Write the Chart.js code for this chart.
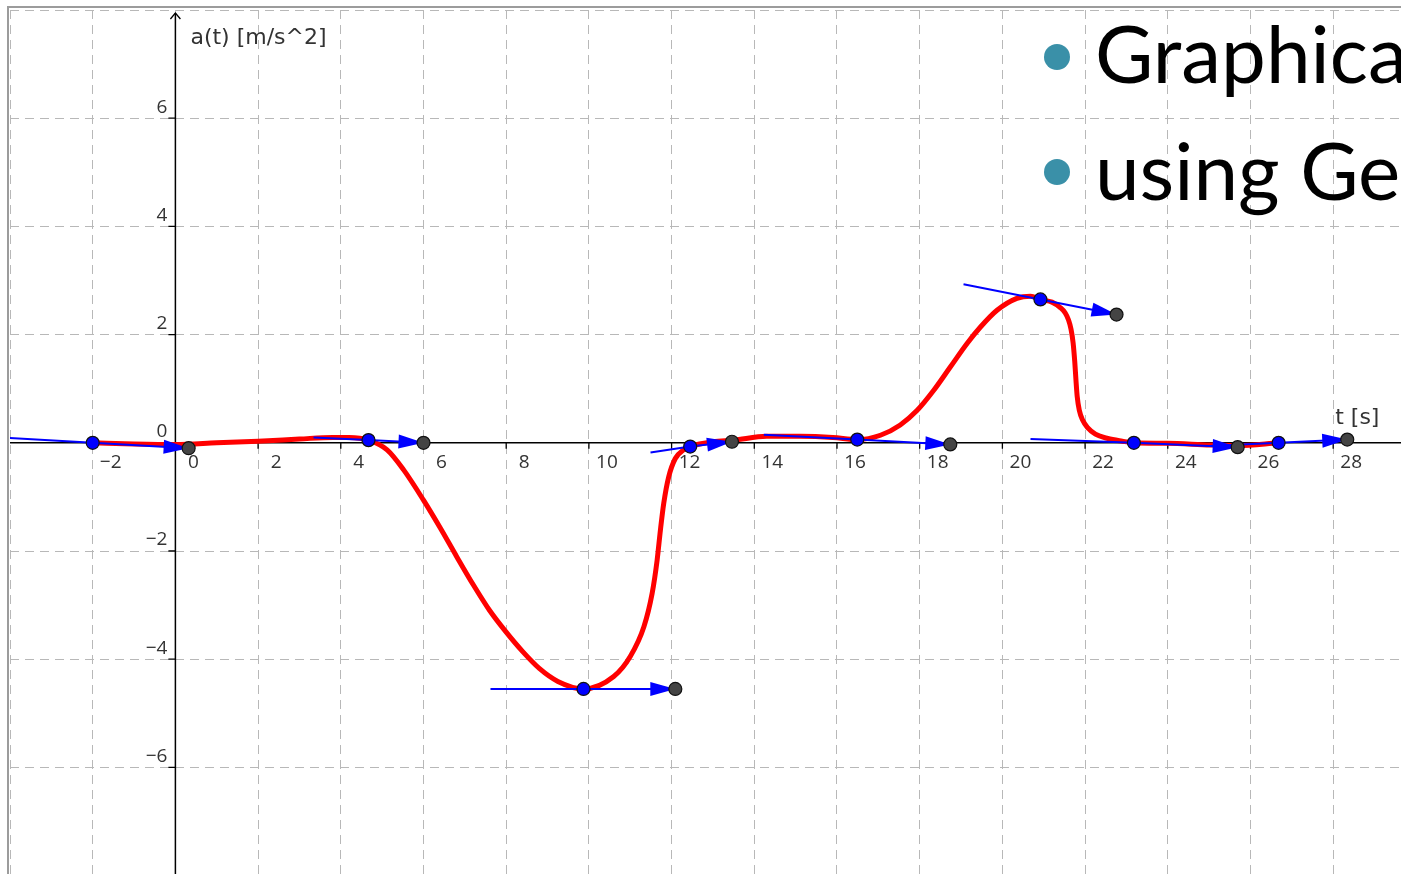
<!DOCTYPE html>
<html>
<head>
<meta charset="utf-8">
<script src="https://cdn.jsdelivr.net/npm/chart.js@4.4.1/dist/chart.umd.min.js"></script>
<style>
  html, body { margin: 0; padding: 0; background: #fff; }
  #wrap { width: 1401px; height: 874px; position: relative; overflow: hidden; }
</style>
</head>
<body>
<div id="wrap"><canvas id="accel" width="1401" height="874"></canvas></div>
<script>
// a(t) curve (t in s, a in m/s^2)
const curveT = [-2.0, -1.0, 0.0, 1.0, 2.0, 3.0, 3.8, 4.2, 4.67, 5.12, 5.52, 6.0, 6.41, 6.8, 7.2, 7.6,
  8.0, 8.4, 8.8, 9.25, 9.87, 10.6, 11.0, 11.33, 11.53, 11.65, 11.73, 11.81, 11.93, 12.09, 12.29,
  12.45, 13.0, 13.5, 14.3, 15.1, 15.9, 16.49, 17.05, 17.53, 17.94, 18.34, 18.74, 19.15, 19.47, 19.87,
  20.35, 20.68, 20.92, 21.2, 21.4, 21.52, 21.6, 21.66, 21.71, 21.75, 21.78, 21.81, 21.86, 21.94, 22.06,
  22.25, 22.55, 22.9, 23.18, 23.98, 25.03, 25.69, 26.68];
const curveA = [0.0, -0.02, -0.03, 0.0, 0.03, 0.07, 0.1, 0.1, 0.05, -0.13, -0.5, -1.06, -1.58, -2.1, -2.62, -3.1,
  -3.5, -3.86, -4.17, -4.41, -4.55, -4.32, -3.95, -3.4, -2.78, -2.17, -1.61, -1.12, -0.63, -0.29, -0.13,
  -0.07, 0.02, 0.05, 0.12, 0.12, 0.1, 0.06, 0.14, 0.33, 0.6, 0.97, 1.4, 1.84, 2.14, 2.45,
  2.67, 2.71, 2.65, 2.6, 2.5, 2.4, 2.27, 2.1, 1.85, 1.5, 1.15, 0.85, 0.6, 0.42, 0.28,
  0.16, 0.08, 0.03, 0.0, -0.01, -0.04, -0.05, 0.0];

// tangent vectors: point on the curve, arrow tip, and tail of the segment
const tanT = [-2.0, 4.67, 9.87, 12.45, 16.49, 20.92, 23.18, 26.68];
const tanA = [0.0, 0.05, -4.55, -0.07, 0.06, 2.65, 0.0, 0.0];
const tipT = [0.32, 6.0, 12.09, 13.46, 18.74, 22.76, 25.69, 28.34];
const tipA = [-0.1, 0.0, -4.55, 0.02, -0.03, 2.37, -0.08, 0.06];
const tailT = [-4.3, 3.34, 7.62, 11.49, 14.23, 19.06, 20.68, 25.02];
const tailA = [0.1, 0.1, -4.55, -0.18, 0.15, 2.93, 0.07, -0.06];

const xTicks = [-2, 0, 2, 4, 6, 8, 10, 12, 14, 16, 18, 20, 22, 24, 26, 28];
const yTicks = [-6, -4, -2, 0, 2, 4, 6];
const xTitle = 't [s]';
const yTitle = 'a(t) [m/s^2]';
const slideLines = ['Graphical', 'using GeoGebra'];

const pts = (xs, ys) => xs.map((v, i) => ({x: v, y: ys[i]}));
const fmt = v => v < 0 ? '\u2212' + Math.abs(v) : String(v);

const datasets = [];
datasets.push({
  label: 'a(t)', data: pts(curveT, curveA), showLine: true,
  borderColor: '#ff0000', borderWidth: 5, pointRadius: 0,
  cubicInterpolationMode: 'monotone', order: 4
});
tanT.forEach((t, i) => {
  datasets.push({
    label: 'tangent ' + i, seg: i,
    data: [{x: tailT[i], y: tailA[i]}, {x: t, y: tanA[i]}, {x: tipT[i], y: tipA[i]}],
    showLine: true, borderColor: '#0000ff', borderWidth: 2, pointRadius: 0, order: 3
  });
});
datasets.push({
  label: 'tips', data: pts(tipT, tipA), pointRadius: 6.5, pointBackgroundColor: '#444',
  pointBorderColor: '#111', pointBorderWidth: 1.2, order: 2
});
datasets.push({
  label: 'points', data: pts(tanT, tanA), pointRadius: 6.5, pointBackgroundColor: '#0000ff',
  pointBorderColor: '#111', pointBorderWidth: 1.2, order: 1
});

// axes through the origin, GeoGebra style
const geoAxes = {
  id: 'geoAxes',
  beforeDatasetsDraw(chart) {
    const {ctx, chartArea: area, scales: {x, y}} = chart;
    const x0 = x.getPixelForValue(0), y0 = y.getPixelForValue(0);
    ctx.save();
    ctx.strokeStyle = '#000';
    ctx.lineWidth = 1.5;
    ctx.beginPath();
    ctx.moveTo(area.left, y0); ctx.lineTo(area.right, y0);
    ctx.moveTo(x0, area.top + 3); ctx.lineTo(x0, area.bottom);
    ctx.stroke();
    ctx.lineWidth = 1.3;
    ctx.beginPath();
    ctx.moveTo(x0 - 5, area.top + 9); ctx.lineTo(x0, area.top + 3); ctx.lineTo(x0 + 5, area.top + 9);
    xTicks.forEach(v => { if (v) { const px = x.getPixelForValue(v); ctx.moveTo(px, y0); ctx.lineTo(px, y0 + 6); } });
    yTicks.forEach(v => { if (v) { const py = y.getPixelForValue(v); ctx.moveTo(x0 - 7, py); ctx.lineTo(x0, py); } });
    ctx.stroke();

    ctx.fillStyle = '#333';
    ctx.font = '19px "Open Sans"';
    ctx.textAlign = 'center';
    ctx.textBaseline = 'middle';
    xTicks.forEach(v => ctx.fillText(fmt(v), x.getPixelForValue(v) + 18, y0 + 20));
    ctx.textAlign = 'right';
    yTicks.forEach(v => ctx.fillText(fmt(v), x0 - 8, y.getPixelForValue(v) - 11));

    ctx.font = '22px "DejaVu Sans"';
    ctx.textAlign = 'left';
    ctx.textBaseline = 'alphabetic';
    ctx.fillText(yTitle, x0 + 15, area.top + 34);
    ctx.fillText(xTitle, x.getPixelForValue(28) + 2, y0 - 19);
    ctx.restore();
  },
  afterDatasetDraw(chart, args) {
    const ds = chart.data.datasets[args.index];
    if (ds.seg === undefined) return;
    const {ctx, scales: {x, y}} = chart;
    const i = ds.seg;
    const ex = x.getPixelForValue(tipT[i]), ey = y.getPixelForValue(tipA[i]);
    const sx = x.getPixelForValue(tanT[i]), sy = y.getPixelForValue(tanA[i]);
    const len = Math.hypot(ex - sx, ey - sy);
    const ux = (ex - sx) / len, uy = (ey - sy) / len;
    const L = 25, W = 7;
    ctx.save();
    ctx.fillStyle = '#0000ff';
    ctx.beginPath();
    ctx.moveTo(ex, ey);
    ctx.lineTo(ex - ux * L - uy * W, ey - uy * L + ux * W);
    ctx.lineTo(ex - ux * L + uy * W, ey - uy * L - ux * W);
    ctx.closePath();
    ctx.fill();
    ctx.restore();
  }
};

const frameAndSlide = {
  id: 'frameAndSlide',
  beforeDraw(chart) {
    const {ctx, chartArea: area} = chart;
    ctx.save();
    ctx.strokeStyle = '#9c9c9c';
    ctx.lineWidth = 2;
    ctx.beginPath();
    ctx.moveTo(area.left - 2, chart.height); ctx.lineTo(area.left - 2, area.top - 3); ctx.lineTo(chart.width, area.top - 3);
    ctx.stroke();
    ctx.restore();
  },
  afterDraw(chart) {
    const {ctx} = chart;
    ctx.save();
    ctx.fillStyle = '#3a90a8';
    [57, 172].forEach(cy => { ctx.beginPath(); ctx.arc(1057, cy, 13, 0, Math.PI * 2); ctx.fill(); });
    ctx.fillStyle = '#000';
    ctx.font = '80px Lato';
    ctx.textBaseline = 'alphabetic';
    ctx.fillText(slideLines[0], 1095, 83);
    ctx.fillText(slideLines[1], 1095, 200);
    ctx.restore();
  }
};

const gridOpts = {color: '#b8b8b8', lineWidth: 1, drawTicks: false};
new Chart(document.getElementById('accel'), {
  type: 'scatter',
  data: {datasets},
  options: {
    responsive: false,
    animation: false,
    devicePixelRatio: 1,
    events: [],
    layout: {padding: {left: 10, top: 10, right: 0, bottom: 0}, autoPadding: false},
    plugins: {legend: {display: false}, tooltip: {enabled: false}},
    scales: {
      x: {type: 'linear', min: -4, max: 29.64, ticks: {display: false, stepSize: 2},
          grid: gridOpts, border: {display: false, dash: [9, 6]}},
      y: {type: 'linear', min: -7.97, max: 8, ticks: {display: false, stepSize: 2},
          grid: gridOpts, border: {display: false, dash: [9, 6]}}
    }
  },
  plugins: [geoAxes, frameAndSlide]
});
</script>
</body>
</html>
